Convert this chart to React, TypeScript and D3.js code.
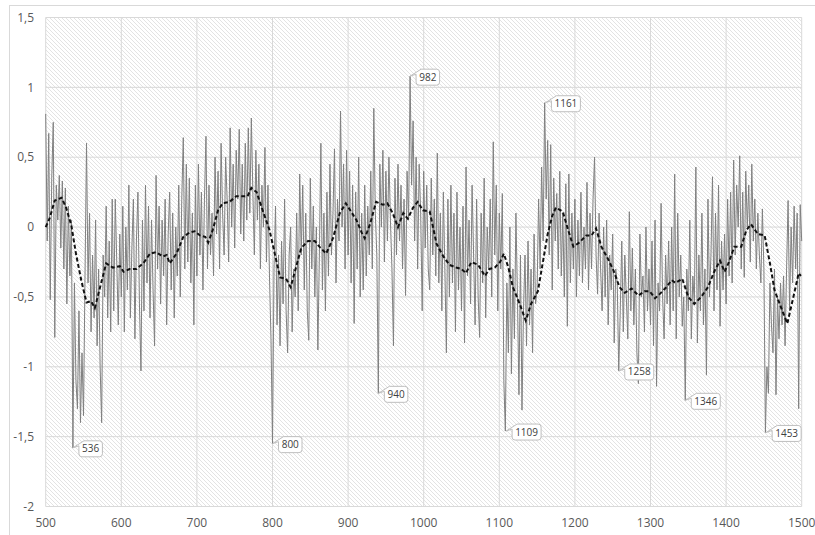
import React from "react";
import * as d3 from "d3";

// Annual anomaly series, sampled every 2 years from 500 to 1500
const rawStart = 500;
const rawStep = 2;
const rawValues: number[] = [
  0.81, -0.1, 0.67, -0.52, 0.35,
  0.75, -0.79, 0.3, 0.05, 0.37,
  -0.15, 0.33, -0.3, 0.28, -0.55,
  0.15, -0.35, 0.05, -1.58, -0.4,
  -1.1, -1.3, -0.6, -1.4, -0.9,
  -1.35, -0.35, 0.6, -0.4, 0.1,
  -0.75, -0.2, -0.65, 0.05, -0.85,
  -0.3, -1.0, -1.4, -0.2, -0.5,
  0.15, -0.65, -0.1, -0.75, 0.2,
  -0.6, 0.2, -0.25, -0.7, -0.05,
  -0.5, 0.15, -0.75, 0.0, -0.45,
  0.3, -0.65, -0.15, 0.2, -0.8,
  -0.1, 0.25, -0.55, -1.03, 0.05,
  -0.6, 0.3, -0.4, 0.15, -0.65,
  0.05, -0.45, -0.85, 0.37, -0.3,
  0.15, -0.55, 0.05, -0.35, 0.2,
  -0.7, -0.05, 0.25, -0.45, 0.1,
  -0.65, 0.0, -0.35, 0.3, -0.5,
  0.2, 0.64, -0.3, 0.45, -0.25,
  0.35, -0.4, 0.1, -0.7, 0.3,
  -0.35, 0.45, -0.2, 0.25, -0.45,
  0.2, 0.65, -0.3, 0.3, -0.2,
  0.1, -0.35, 0.5, -0.05, 0.4,
  -0.3, 0.6, 0.1, -0.2, 0.5,
  0.2, -0.25, 0.71, 0.0, 0.45,
  -0.15, 0.55, 0.2, 0.7, -0.05,
  0.45, -0.1, 0.6, 0.05, 0.71,
  0.1, 0.78, 0.25, -0.2, 0.55,
  0.05, 0.45, -0.3, 0.3, 0.0,
  0.57, -0.25, 0.3, -0.35, -0.8,
  -1.55, -0.3, 0.15, -0.7, -0.2,
  -0.85, -0.1, -0.55, 0.2, -0.6,
  -0.9, -0.2, 0.0, -0.75, -0.3,
  -0.5, 0.1, -0.6, 0.38, -0.2,
  0.3, -0.45, 0.1, -0.6, -0.81,
  0.35, -0.3, 0.15, -0.5, 0.0,
  -0.88, -0.2, 0.6, -0.45, 0.1,
  -0.6, 0.25, -0.35, 0.45, -0.2,
  0.1, 0.56, -0.4, 0.2, -0.1,
  0.83, 0.0, 0.45, -0.3, 0.55,
  -0.2, 0.4, -0.4, 0.3, -0.69,
  0.25, -0.3, 0.5, -0.5, 0.1,
  -0.45, 0.3, -0.35, 0.15, -0.2,
  0.4, -0.3, 0.85, 0.1, -0.2,
  -1.19, 0.45, 0.0, 0.55, -0.25,
  0.4, -0.1, 0.5, 0.05, -0.3,
  -0.85, 0.35, -0.2, 0.45, -0.1,
  0.3, -0.3, 0.2, -0.49, 0.4,
  0.05, 1.08, 0.3, 0.76, -0.1,
  0.5, -0.3, 0.45, 0.1, -0.6,
  0.4, -0.15, 0.3, -0.3, -0.45,
  0.35, -0.2, 0.2, -0.35, 0.53,
  -0.4, 0.1, -0.6, 0.25, -0.3,
  -0.9, 0.2, -0.5, 0.3, -0.4,
  0.1, -0.75, 0.25, -0.45, 0.0,
  -0.6, 0.15, -0.83, 0.43, -0.35,
  0.05, -0.55, 0.3, -0.2, -0.7,
  0.2, -0.5, -0.79, 0.1, -0.4,
  0.35, -0.65, 0.0, -0.3, 0.2,
  -0.5, 0.61, -0.2, 0.3, -0.6,
  0.1, -0.3, 0.24, -1.1, -1.46,
  -0.4, -0.9, 0.0, -1.05, -0.3,
  -0.8, 0.1, -0.5, -1.2, -0.2,
  -1.31, -0.6, -0.2, -0.85, -0.1,
  -0.7, -0.3, -0.9, -0.05, -0.55,
  -0.45, 0.2, -0.3, 0.43, -0.1,
  0.89, 0.2, 0.62, -0.2, 0.59,
  -0.45, 0.35, -0.1, 0.24, -0.3,
  0.4, -0.35, 0.1, -0.5, 0.31,
  -0.71, 0.38, -0.4, 0.1, -0.3,
  0.2, -0.5, 0.05, -0.35, 0.25,
  -0.4, 0.0, -0.3, 0.32, -0.45,
  0.1, -0.3, 0.2, 0.5, -0.2,
  -0.48, 0.1, -0.3, -0.6, 0.0,
  -0.5, 0.05, -0.7, -0.2, -0.45,
  -0.05, -0.83, -0.3, -0.4, -1.03,
  -0.6, -0.1, -0.75, -0.2, -0.5,
  -0.8, 0.11, -0.6, -0.15, -0.7,
  -0.3, -0.9, -1.12, -0.05, -0.5,
  -0.35, -0.75, 0.0, -0.6, -0.3,
  -0.7, -0.1, -0.85, 0.05, -1.14,
  -0.4, -0.6, 0.17, -0.5, -0.8,
  -0.2, -0.55, -0.1, -0.7, 0.0,
  -0.6, 0.38, -0.8, 0.1, -0.5,
  -0.2, -0.71, -0.5, -1.24, -0.3,
  -0.6, 0.05, -0.8, -0.35, -0.55,
  0.43, -0.83, -0.2, -0.6, 0.1,
  -0.7, -0.3, -1.06, 0.2, -0.5,
  -0.2, 0.36, -0.6, 0.1, -0.45,
  0.3, -0.71, -0.1, -0.45, -0.05,
  -0.55, 0.2, -0.35, 0.25, -0.4,
  0.48, -0.2, 0.3, 0.0, 0.51,
  -0.3, 0.25, -0.36, 0.4, 0.0,
  0.3, -0.25, 0.45, -0.1, 0.2,
  -0.3, 0.1, -0.2, -0.4, 0.13,
  -0.3, -1.47, -1.0, -1.19, -0.4,
  -0.7, -0.9, -0.3, -1.2, -0.5,
  -0.8, -0.4, -0.7, -0.35, -0.85,
  -0.3, 0.19, -0.6, 0.0, -0.4,
  0.15, -0.3, 0.1, -1.3, 0.16,
  -0.1,
];

// Smoothed (dashed) curve
const smoothYears: number[] = [
  500, 505, 512, 521, 527, 534, 540, 547, 554, 560, 565, 571, 580, 589, 598, 603, 611, 620, 629, 638,
  646, 655, 660, 664, 673, 682, 690, 697, 704, 711, 715, 721, 728, 734, 743, 752, 761, 767, 772, 779,
  787, 796, 803, 810, 818, 824, 832, 838, 847, 856, 862, 871, 880, 889, 897, 904, 911, 918, 922, 929,
  937, 946, 952, 959, 966, 973, 979, 986, 992, 999, 1008, 1017, 1026, 1034, 1043, 1050, 1056, 1063, 1072, 1081,
  1087, 1094, 1101, 1106, 1112, 1118, 1127, 1135, 1142, 1151, 1158, 1164, 1170, 1175, 1184, 1191, 1198, 1206, 1215, 1222,
  1228, 1235, 1244, 1251, 1259, 1266, 1275, 1284, 1292, 1299, 1306, 1312, 1321, 1328, 1333, 1342, 1350, 1358, 1367, 1376,
  1385, 1392, 1398, 1403, 1411, 1420, 1427, 1433, 1442, 1451, 1458, 1464, 1473, 1481, 1489, 1496, 1499,
];
const smoothValues: number[] = [
  0.0, 0.06, 0.19, 0.21, 0.14, 0.01, -0.19, -0.38, -0.54, -0.53, -0.58, -0.45, -0.26, -0.29, -0.28, -0.32, -0.3, -0.3, -0.26, -0.19,
  -0.18, -0.21, -0.2, -0.26, -0.19, -0.07, -0.04, -0.03, -0.06, -0.07, -0.11, -0.02, 0.12, 0.17, 0.18, 0.22, 0.22, 0.22, 0.28, 0.25,
  0.12, -0.02, -0.19, -0.36, -0.37, -0.43, -0.27, -0.15, -0.1, -0.1, -0.14, -0.19, -0.08, 0.1, 0.17, 0.11, 0.05, -0.04, -0.08, 0.02,
  0.18, 0.16, 0.17, 0.1, 0.0, 0.1, 0.06, 0.14, 0.18, 0.12, 0.11, -0.12, -0.21, -0.27, -0.29, -0.3, -0.33, -0.25, -0.27, -0.35,
  -0.3, -0.29, -0.25, -0.19, -0.29, -0.43, -0.55, -0.67, -0.55, -0.46, -0.24, -0.05, 0.08, 0.14, 0.11, -0.02, -0.14, -0.11, -0.06, -0.06,
  -0.01, -0.14, -0.23, -0.31, -0.43, -0.47, -0.44, -0.49, -0.46, -0.46, -0.51, -0.48, -0.43, -0.38, -0.4, -0.37, -0.5, -0.55, -0.5, -0.43,
  -0.31, -0.24, -0.32, -0.26, -0.14, -0.14, -0.02, 0.02, -0.05, -0.06, -0.26, -0.45, -0.58, -0.69, -0.5, -0.33, -0.35,
];

// Callout labels
const labelYears: number[] = [536, 800, 940, 982, 1109, 1161, 1258, 1346, 1453];
const labelValues: number[] = [-1.58, -1.55, -1.19, 1.08, -1.46, 0.89, -1.03, -1.24, -1.47];

// Axes
const xTicks: number[] = [500, 600, 700, 800, 900, 1000, 1100, 1200, 1300, 1400, 1500];
const yTicks: number[] = [1.5, 1, 0.5, 0, -0.5, -1, -1.5, -2];

const W = 815;
const H = 535;
const left = 45.7;
const right = 801.7;
const top = 17.5;
const bottom = 506.5;

export default function App() {
  const x = d3.scaleLinear().domain([500, 1500]).range([left, right]);
  const y = d3.scaleLinear().domain([-2, 1.5]).range([bottom, top]);

  const raw = rawValues.map((v, i) => [rawStart + i * rawStep, v] as [number, number]);
  const smooth = smoothYears.map((yr, i) => [yr, smoothValues[i]] as [number, number]);

  const line = d3
    .line<[number, number]>()
    .x((d) => x(d[0]))
    .y((d) => y(d[1]));

  const fmt = (v: number) => String(v).replace(".", ",");

  const font = "'Open Sans', 'Liberation Sans', Arial, sans-serif";

  return (
    <svg
      width={W}
      height={H}
      style={{ position: "absolute", left: 0, top: 0, background: "#fff" }}
    >
      <defs>
        <pattern id="hatch" width={4} height={4} patternUnits="userSpaceOnUse">
          <rect width={4} height={4} fill="#ffffff" />
          <path d="M-1,-1 L5,5 M-1,3 L1,5 M3,-1 L5,1" stroke="#e3e3e3" strokeWidth={1} />
        </pattern>
      </defs>
      <rect x={9.5} y={5.5} width={830} height={560} fill="#fff" stroke="#d9d9d9" />
      <rect
        x={left}
        y={top}
        width={right - left}
        height={bottom - top}
        fill="url(#hatch)"
      />
      {yTicks.map((t) => (
        <line
          key={"gy" + t}
          x1={left}
          x2={right}
          y1={y(t)}
          y2={y(t)}
          stroke="#d9d9d9"
          strokeWidth={1}
        />
      ))}
      {xTicks.map((t) => (
        <line
          key={"gx" + t}
          x1={x(t)}
          x2={x(t)}
          y1={top}
          y2={bottom}
          stroke="#d9d9d9"
          strokeWidth={1}
        />
      ))}
      <path d={line(raw) || ""} fill="none" stroke="#808080" strokeWidth={1} />
      <path
        d={line(smooth) || ""}
        fill="none"
        stroke="#111"
        strokeWidth={2}
        strokeDasharray="4 2.5"
      />
      {labelYears.map((yr, i) => {
        const px = x(yr);
        const py = y(labelValues[i]);
        const txt = String(yr);
        const w = txt.length * 5.5 + 7;
        const h = 16;
        const x0 = px + 6;
        const y0 = py - 7;
        const x1 = x0 + w;
        const y1 = y0 + h;
        const r = 3;
        const d = `M${px},${py} L${x0 + 5},${y0} H${x1 - r} Q${x1},${y0} ${x1},${y0 + r} V${y1 - r} Q${x1},${y1} ${x1 - r},${y1} H${x0 + r} Q${x0},${y1} ${x0},${y1 - r} V${y0 + 5} Z`;
        return (
          <g key={"lab" + yr}>
            <path d={d} fill="#fff" stroke="#bfbfbf" strokeWidth={1} />
            <text
              x={x0 + w / 2}
              y={y0 + h / 2}
              dy="0.35em"
              textAnchor="middle"
              fontFamily={font}
              fontSize={10}
              fill="#404040"
            >
              {txt}
            </text>
          </g>
        );
      })}
      {yTicks.map((t) => (
        <text
          key={"ty" + t}
          x={34}
          y={y(t)}
          dy="0.35em"
          textAnchor="end"
          fontFamily={font}
          fontSize={12}
          fill="#595959"
        >
          {fmt(t)}
        </text>
      ))}
      {xTicks.map((t) => (
        <text
          key={"tx" + t}
          x={x(t)}
          y={523}
          dy="0.35em"
          textAnchor="middle"
          fontFamily={font}
          fontSize={12}
          fill="#595959"
        >
          {t}
        </text>
      ))}
    </svg>
  );
}
